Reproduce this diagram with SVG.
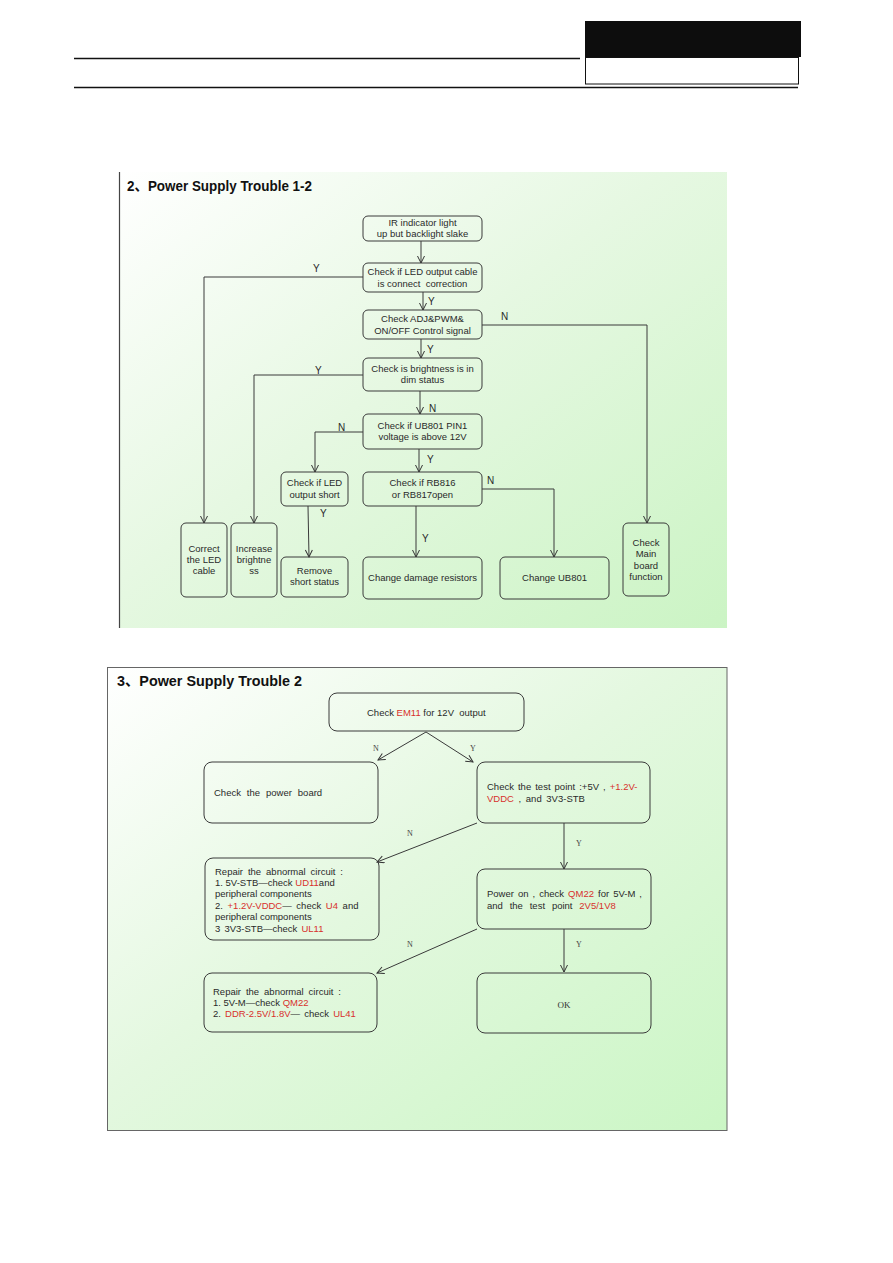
<svg xmlns="http://www.w3.org/2000/svg" width="893" height="1263" viewBox="0 0 893 1263">
<style>
.box{fill:none;stroke:#3a3a3a;stroke-width:1}
.t{font-family:"Liberation Sans",Arial,sans-serif;font-size:9.5px;fill:#2a2a2a;text-anchor:middle}
.b{font-family:"Liberation Sans",Arial,sans-serif;font-size:9.5px;fill:#2a2a2a}
.r{fill:#d8302c}
.lab{font-family:"Liberation Sans",Arial,sans-serif;font-size:10px;fill:#2a2a2a}
.sl{font-family:"Liberation Serif","Times New Roman",serif;font-size:8px;fill:#444}
.ttl{font-family:"Liberation Sans","Noto Sans CJK SC",sans-serif;font-size:15.5px;font-weight:bold;fill:#111}
.c{fill:none;stroke:#3a3a3a;stroke-width:1}
</style>
<defs>
<linearGradient id="g1" x1="0" y1="0" x2="1" y2="1">
<stop offset="0" stop-color="#ffffff"/>
<stop offset="0.45" stop-color="#e6f8e2"/>
<stop offset="1" stop-color="#cbf4c4"/>
</linearGradient>
<linearGradient id="g2" x1="0" y1="0" x2="1" y2="1">
<stop offset="0" stop-color="#ffffff"/>
<stop offset="0.45" stop-color="#e4f8e0"/>
<stop offset="1" stop-color="#cbf6c5"/>
</linearGradient>
<marker id="a" markerWidth="10" markerHeight="10" refX="8" refY="4" orient="auto" markerUnits="userSpaceOnUse">
<path d="M1,0.5 L8,4 L1,7.5" fill="none" stroke="#333" stroke-width="1"/>
</marker>
</defs>
<rect width="893" height="1263" fill="#ffffff"/>
<g id="header">
<rect x="585" y="21" width="216" height="36" fill="#0d0d0d"/>
<rect x="585.5" y="57.5" width="213" height="26.5" fill="#fff" stroke="#111" stroke-width="1"/>
<line x1="74" y1="58.5" x2="580" y2="58.5" stroke="#111" stroke-width="1.3"/>
<line x1="74" y1="87.5" x2="798" y2="87.5" stroke="#111" stroke-width="1.3"/>
</g>
<g id="panel1">
<rect x="119" y="172" width="608" height="456" fill="url(#g1)"/>
<line x1="119.5" y1="172" x2="119.5" y2="628" stroke="#444" stroke-width="1.2"/>
<text class="ttl" x="127" y="191" textLength="185" lengthAdjust="spacingAndGlyphs">2、Power Supply Trouble 1-2</text>
</g>
<g id="connectors1">
<path class="c" d="M421,241 V263" marker-end="url(#a)"/>
<path class="c" d="M423,292 V310" marker-end="url(#a)"/>
<path class="c" d="M363,277 H204 V523" marker-end="url(#a)"/>
<path class="c" d="M421,339 V358" marker-end="url(#a)"/>
<path class="c" d="M482,325 H647 V523" marker-end="url(#a)"/>
<path class="c" d="M363,375 H254 V523" marker-end="url(#a)"/>
<path class="c" d="M420,391 V414" marker-end="url(#a)"/>
<path class="c" d="M363,432 H315 V472" marker-end="url(#a)"/>
<path class="c" d="M419,449 V472" stroke-width="1.6" marker-end="url(#a)"/>
<path class="c" d="M308,506 L309,557" marker-end="url(#a)"/>
<path class="c" d="M416,506 V557" marker-end="url(#a)"/>
<path class="c" d="M482,489 H554 V557" marker-end="url(#a)"/>
<text class="lab" x="313" y="272">Y</text>
<text class="lab" x="428" y="305">Y</text>
<text class="lab" x="427" y="353">Y</text>
<text class="lab" x="501" y="320">N</text>
<text class="lab" x="315" y="374">Y</text>
<text class="lab" x="429" y="412">N</text>
<text class="lab" x="338" y="431">N</text>
<text class="lab" x="427" y="463">Y</text>
<text class="lab" x="320" y="517">Y</text>
<text class="lab" x="422" y="542">Y</text>
<text class="lab" x="487" y="484">N</text>
</g>
<g id="n_ir">
<rect class="box" x="363" y="216" width="119" height="25" rx="5"/>
<text class="t" x="422.5" y="226">IR indicator light</text>
<text class="t" x="422.5" y="237">up but backlight slake</text>
</g>
<g id="n_ledcable">
<rect class="box" x="363" y="263" width="119" height="29" rx="5"/>
<text class="t" x="422.5" y="275">Check if LED output cable</text>
<text class="t" x="422.5" y="287" xml:space="preserve">is connect  correction</text>
</g>
<g id="n_adj">
<rect class="box" x="363" y="310" width="119" height="29" rx="5"/>
<text class="t" x="422.5" y="322">Check ADJ&amp;PWM&amp;</text>
<text class="t" x="422.5" y="334">ON/OFF Control signal</text>
</g>
<g id="n_bright">
<rect class="box" x="363" y="358" width="119" height="33" rx="5"/>
<text class="t" x="422.5" y="372">Check is brightness is in</text>
<text class="t" x="422.5" y="383">dim status</text>
</g>
<g id="n_ub801">
<rect class="box" x="363" y="414" width="119" height="35" rx="5"/>
<text class="t" x="422.5" y="429">Check if UB801 PIN1</text>
<text class="t" x="422.5" y="440">voltage is above 12V</text>
</g>
<g id="n_ledshort">
<rect class="box" x="281" y="472" width="67" height="34" rx="5"/>
<text class="t" x="314.5" y="486">Check if LED</text>
<text class="t" x="314.5" y="498">output short</text>
</g>
<g id="n_rb816">
<rect class="box" x="363" y="472" width="119" height="34" rx="5"/>
<text class="t" x="422.5" y="486">Check if RB816</text>
<text class="t" x="422.5" y="498">or RB817open</text>
</g>
<g id="n_correct">
<rect class="box" x="181" y="523" width="46" height="74" rx="5"/>
<text class="t" x="204" y="552">Correct</text>
<text class="t" x="204" y="563">the LED</text>
<text class="t" x="204" y="574">cable</text>
</g>
<g id="n_increase">
<rect class="box" x="231" y="523" width="46" height="74" rx="5"/>
<text class="t" x="254" y="552">Increase</text>
<text class="t" x="254" y="563">brightne</text>
<text class="t" x="254" y="574">ss</text>
</g>
<g id="n_remove">
<rect class="box" x="281" y="557" width="67" height="40" rx="5"/>
<text class="t" x="314.5" y="574">Remove</text>
<text class="t" x="314.5" y="585">short status</text>
</g>
<g id="n_damage">
<rect class="box" x="363" y="557" width="119" height="42" rx="5"/>
<text class="t" x="422.5" y="581">Change damage resistors</text>
</g>
<g id="n_changeub">
<rect class="box" x="500" y="557" width="109" height="42" rx="5"/>
<text class="t" x="554.5" y="581">Change UB801</text>
</g>
<g id="n_main">
<rect class="box" x="623" y="523" width="46" height="73" rx="5"/>
<text class="t" x="646" y="546">Check</text>
<text class="t" x="646" y="557">Main</text>
<text class="t" x="646" y="569">board</text>
<text class="t" x="646" y="580">function</text>
</g>
<g id="panel2">
<rect x="107.5" y="667.5" width="619.5" height="463" fill="url(#g2)" stroke="#666" stroke-width="1"/>
<text class="ttl" x="117" y="686" textLength="185" lengthAdjust="spacingAndGlyphs">3、Power Supply Trouble 2</text>
</g>
<g id="connectors2">
<path class="c" d="M426,732 L378,760" marker-end="url(#a)"/>
<path class="c" d="M426,732 L473,762" marker-end="url(#a)"/>
<path class="c" d="M477,823 L377,862" marker-end="url(#a)"/>
<path class="c" d="M564,823 V869" marker-end="url(#a)"/>
<path class="c" d="M477,929 L377,973" marker-end="url(#a)"/>
<path class="c" d="M564,929 V972" marker-end="url(#a)"/>
<text class="sl" x="373" y="751">N</text>
<text class="sl" x="470" y="751">Y</text>
<text class="sl" x="407" y="836">N</text>
<text class="sl" x="576" y="846">Y</text>
<text class="sl" x="407" y="947">N</text>
<text class="sl" x="576" y="947">Y</text>
</g>
<g id="n_em11">
<rect class="box" x="329" y="693" width="195" height="38" rx="8"/>
<text class="b" x="367" y="716" xml:space="preserve">Check <tspan class="r">EM11</tspan> for 12V  output</text>
</g>
<g id="n_powerboard">
<rect class="box" x="204" y="762" width="174" height="61" rx="8"/>
<text class="b" x="214" y="796" word-spacing="3.3">Check the power board</text>
</g>
<g id="n_testpoint">
<rect class="box" x="477" y="762" width="173" height="61" rx="8"/>
<text class="b" x="487" y="790" word-spacing="1.4">Check the test point :+5V , <tspan class="r">+1.2V-</tspan></text>
<text class="b" x="487" y="802" word-spacing="2"><tspan class="r">VDDC</tspan> , and 3V3-STB</text>
</g>
<g id="n_repair1">
<rect class="box" x="205" y="858" width="174" height="82" rx="8"/>
<text class="b" x="215" y="875" word-spacing="2.3">Repair the abnormal circuit :</text>
<text class="b" x="215" y="886">1. 5V-STB—check <tspan class="r">UD11</tspan>and</text>
<text class="b" x="215" y="897">peripheral components</text>
<text class="b" x="215" y="909" word-spacing="2">2. <tspan class="r">+1.2V-VDDC</tspan>— check <tspan class="r">U4</tspan> and</text>
<text class="b" x="215" y="920">peripheral components</text>
<text class="b" x="215" y="932" word-spacing="1.5">3 3V3-STB—check <tspan class="r">UL11</tspan></text>
</g>
<g id="n_poweron">
<rect class="box" x="477" y="869" width="174" height="60" rx="8"/>
<text class="b" x="487" y="897" word-spacing="1.4">Power on , check <tspan class="r">QM22</tspan> for 5V-M ,</text>
<text class="b" x="487" y="909" word-spacing="4.2">and the test point <tspan class="r">2V5/1V8</tspan></text>
</g>
<g id="n_repair2">
<rect class="box" x="204" y="973" width="173" height="59" rx="8"/>
<text class="b" x="213" y="995" word-spacing="2.3">Repair the abnormal circuit :</text>
<text class="b" x="213" y="1006">1. 5V-M—check <tspan class="r">QM22</tspan></text>
<text class="b" x="213" y="1017" word-spacing="1.5">2. <tspan class="r">DDR-2.5V/1.8V</tspan>— check <tspan class="r">UL41</tspan></text>
</g>
<g id="n_ok">
<rect class="box" x="477" y="973" width="174" height="60" rx="8"/>
<text x="564" y="1008" text-anchor="middle" font-family="Liberation Serif,serif" font-size="9" fill="#333">OK</text>
</g>
</svg>
